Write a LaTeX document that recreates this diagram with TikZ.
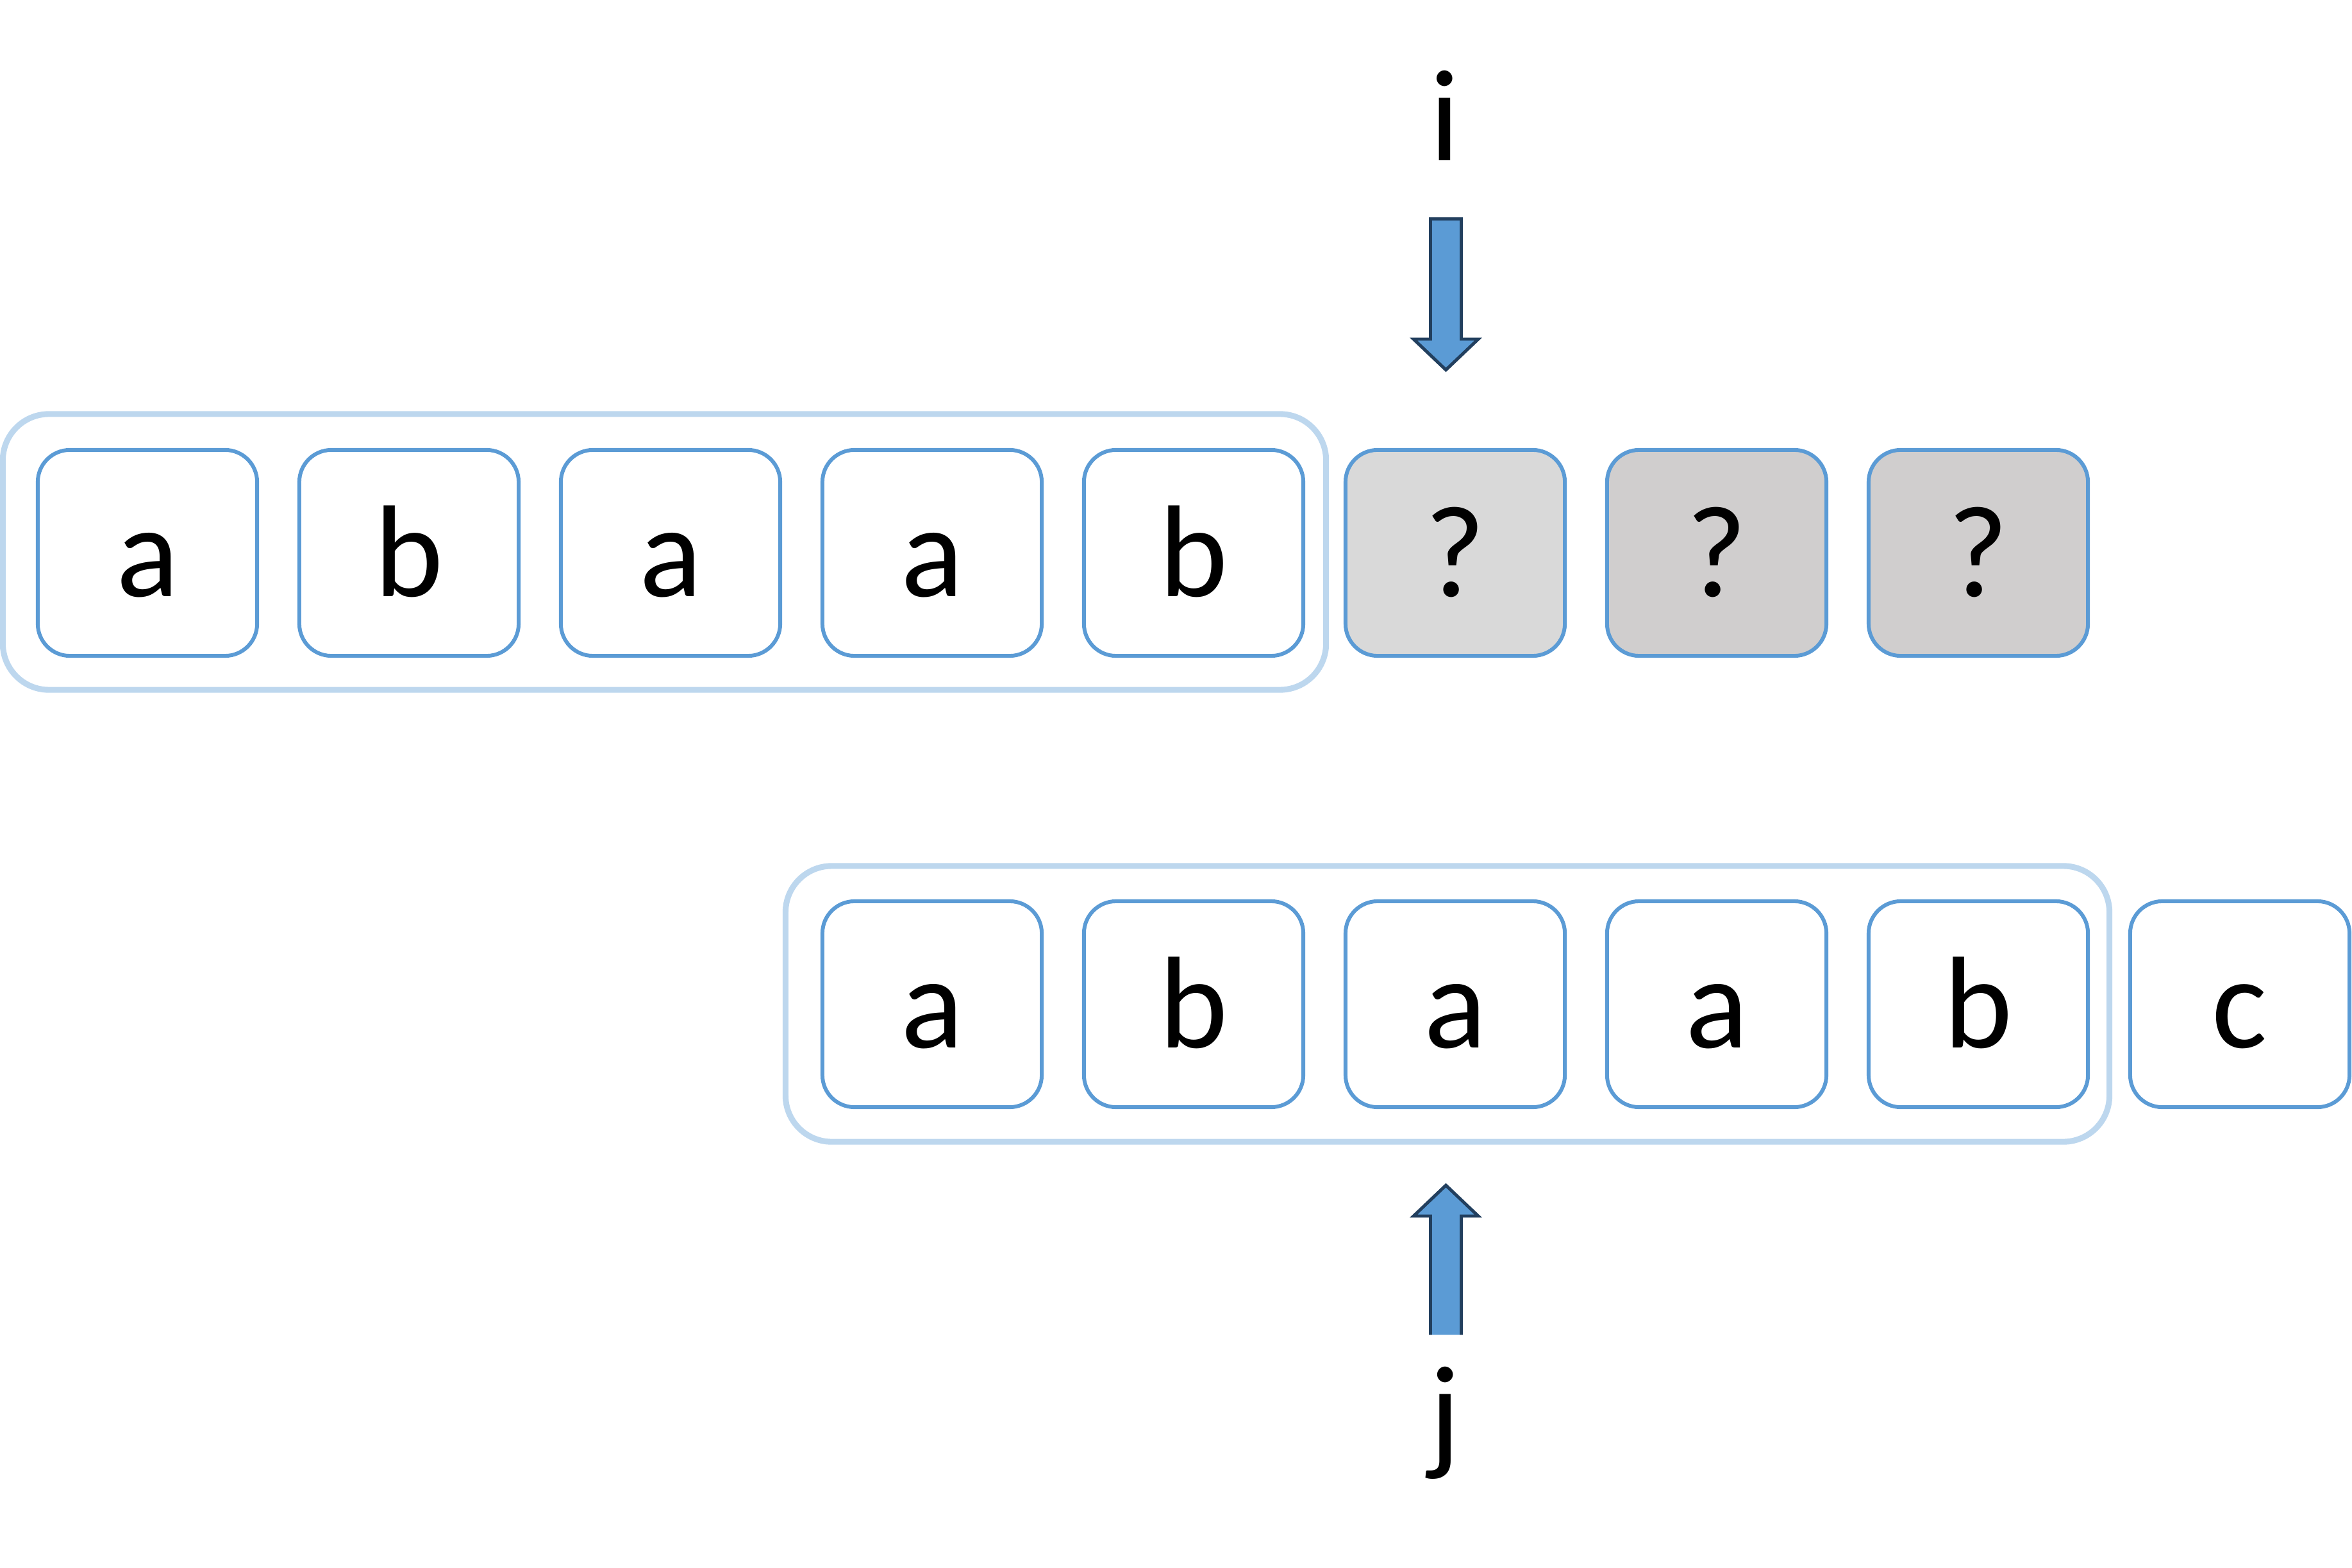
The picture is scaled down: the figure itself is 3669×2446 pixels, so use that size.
\documentclass[tikz,border=0pt]{standalone}
\usepackage{fontspec}
\setmainfont{Carlito}
\definecolor{boxblue}{HTML}{5B9BD5}
\definecolor{outerblue}{HTML}{BDD7EE}
\definecolor{greyA}{HTML}{D9D9D9}
\definecolor{greyB}{HTML}{D0CECE}
\definecolor{navy}{HTML}{223F5E}
\begin{document}
\begin{tikzpicture}[x=0.01cm,y=-0.01cm,
  cell/.style={draw=boxblue, line width=1.7pt, rounded corners=0.5cm,
    minimum width=3.42cm, minimum height=3.21cm, inner sep=0pt, fill=white,
    font=\fontsize{58}{60}\selectfont, text height=1.55cm, text depth=0.2cm},
  outerbox/.style={draw=outerblue, line width=2.6pt, rounded corners=0.72cm,
    minimum height=4.30cm, inner sep=0pt},
  lbl/.style={font=\fontsize{58}{60}\selectfont, inner sep=0pt, anchor=base},
  blockarrow/.style={fill=boxblue, draw=navy, line width=1.4pt, line join=miter}]
\useasboundingbox (0,0) rectangle (3669,2446);
% group frames
\node[outerbox, minimum width=20.63cm] (grpTop) at (1036.5,861) {};
\node[outerbox, minimum width=20.64cm] (grpBot) at (2258,1566) {};
% top row
\node[cell] (t1) at (230,862.5) {a};
\node[cell] (t2) at (638,862.5) {b};
\node[cell] (t3) at (1046,862.5) {a};
\node[cell] (t4) at (1454,862.5) {a};
\node[cell] (t5) at (1862,862.5) {b};
\node[cell, fill=greyA] (t6) at (2270,862.5) {?};
\node[cell, fill=greyB] (t7) at (2678,862.5) {?};
\node[cell, fill=greyB] (t8) at (3086,862.5) {?};
% bottom row
\node[cell] (b1) at (1454,1566.5) {a};
\node[cell] (b2) at (1862,1566.5) {b};
\node[cell] (b3) at (2270,1566.5) {a};
\node[cell] (b4) at (2678,1566.5) {a};
\node[cell] (b5) at (3086,1566.5) {b};
\node[cell] (b6) at (3494,1566.5) {c};
% labels
\node[lbl] (li) at (2254,251) {i};
\node[lbl] (lj) at (2254,2272) {j};
% down arrow (i)
\filldraw[blockarrow] (2231.5,341.5) -- (2279.5,341.5) -- (2279.5,529) -- (2306,529)
  -- (2255.5,577) -- (2205,529) -- (2231.5,529) -- cycle;
% up arrow (j), open at its foot
\fill[boxblue] (2229,2082) -- (2229,1897) -- (2205,1897) -- (2255.5,1849)
  -- (2306,1897) -- (2282,1897) -- (2282,2082) -- cycle;
\draw[navy, line width=1.4pt, line join=miter] (2231.5,2082) -- (2231.5,1897) -- (2205,1897)
  -- (2255.5,1849) -- (2306,1897) -- (2279.5,1897) -- (2279.5,2082);
\end{tikzpicture}
\end{document}
